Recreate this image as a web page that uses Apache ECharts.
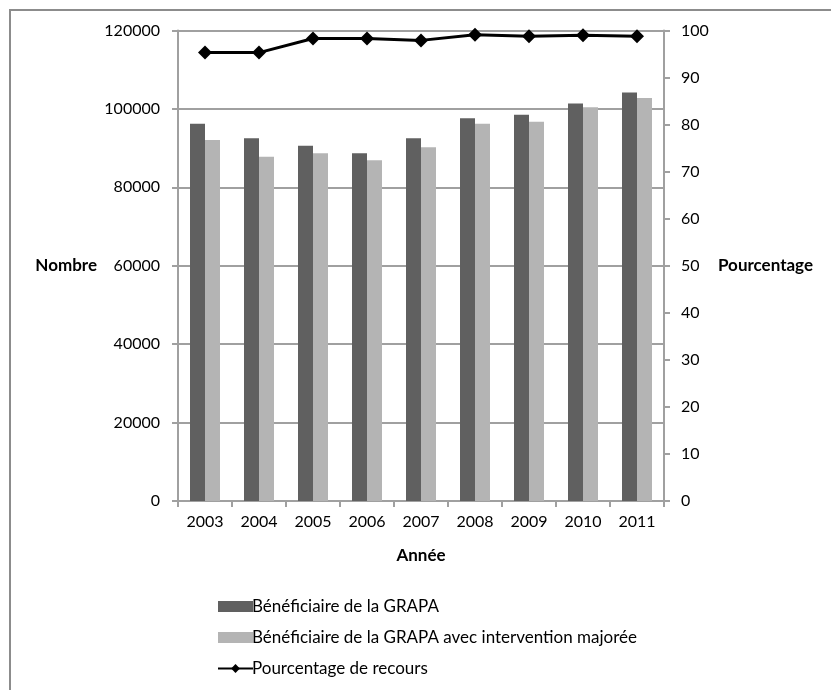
<!DOCTYPE html>
<html>
<head>
<meta charset="utf-8">
<script src="https://cdn.jsdelivr.net/npm/echarts@6/dist/echarts.min.js"></script>
<style>
  html, body { margin: 0; padding: 0; background: #fff; }
  #chart { width: 831px; height: 690px; }
</style>
</head>
<body>
<div id="chart"></div>
<script>
// Years on the category axis
const years = ['2003', '2004', '2005', '2006', '2007', '2008', '2009', '2010', '2011'];
// Number of GRAPA beneficiaries
const beneficiaires = [96200, 92500, 90600, 88700, 92500, 97600, 98500, 101400, 104200];
// Number of GRAPA beneficiaries with increased allowance
const beneficiairesMajores = [92100, 87800, 88700, 86900, 90200, 96200, 96700, 100400, 102800];
// Take-up rate (%)
const pourcentage = [95.3, 95.3, 98.3, 98.3, 97.9, 99.1, 98.8, 99.0, 98.8];

const FONT = 'Lato, "Open Sans", sans-serif';
const GRID_GREY = '#a0a0a0';

const chart = echarts.init(document.getElementById('chart'));
chart.setOption({
  animation: false,
  backgroundColor: '#fff',
  textStyle: { fontFamily: FONT, color: '#000' },
  graphic: [{
    type: 'rect',
    shape: { x: 10, y: 10, width: 900, height: 800 },
    style: { fill: 'none', stroke: '#8c8c8c', lineWidth: 2 },
    silent: true
  }],
  grid: { left: 178, right: 167, top: 30.5, bottom: 189 },
  legend: {
    orient: 'vertical',
    left: 212,
    top: 593,
    itemWidth: 35,
    itemHeight: 11,
    itemGap: 14,
    textStyle: { fontFamily: FONT, fontSize: 17, color: '#000', padding: [0, 0, 0, -6] },
    data: [
      { name: 'Bénéficiaire de la GRAPA', icon: 'rect' },
      { name: 'Bénéficiaire de la GRAPA avec intervention majorée', icon: 'rect' },
      { name: 'Pourcentage de recours' }
    ]
  },
  xAxis: {
    type: 'category',
    data: years,
    name: 'Année',
    nameLocation: 'middle',
    nameGap: 46,
    nameTextStyle: { fontFamily: FONT, fontSize: 17, fontWeight: 'bold', color: '#000' },
    axisLine: { lineStyle: { color: GRID_GREY, width: 2 } },
    axisTick: { show: true, alignWithLabel: false, length: 6, lineStyle: { color: GRID_GREY, width: 2 } },
    axisLabel: { fontFamily: FONT, fontSize: 16, color: '#000', margin: 13 }
  },
  yAxis: [{
    type: 'value',
    min: 0,
    max: 120000,
    interval: 20000,
    name: 'Nombre',
    nameLocation: 'middle',
    nameRotate: 0,
    nameGap: 81,
    nameTextStyle: { fontFamily: FONT, fontSize: 17, fontWeight: 'bold', color: '#000', align: 'right' },
    axisLine: { show: true, lineStyle: { color: GRID_GREY, width: 2 } },
    axisTick: { show: true, length: 6, lineStyle: { color: GRID_GREY, width: 2 } },
    axisLabel: { fontFamily: FONT, fontSize: 16, color: '#000', margin: 18, formatter: v => String(v) },
    splitLine: { show: true, lineStyle: { color: GRID_GREY, width: 2 } }
  }, {
    type: 'value',
    min: 0,
    max: 100,
    interval: 10,
    name: 'Pourcentage',
    nameLocation: 'middle',
    nameRotate: 0,
    nameGap: 54,
    nameTextStyle: { fontFamily: FONT, fontSize: 17, fontWeight: 'bold', color: '#000', align: 'left' },
    axisLine: { show: true, lineStyle: { color: GRID_GREY, width: 2 } },
    axisTick: { show: true, length: 6, lineStyle: { color: GRID_GREY, width: 2 } },
    axisLabel: { fontFamily: FONT, fontSize: 16, color: '#000', margin: 17 },
    splitLine: { show: false }
  }],
  series: [{
    name: 'Bénéficiaire de la GRAPA',
    type: 'bar',
    data: beneficiaires,
    barWidth: 15,
    barGap: '0%',
    itemStyle: { color: '#606060' }
  }, {
    name: 'Bénéficiaire de la GRAPA avec intervention majorée',
    type: 'bar',
    data: beneficiairesMajores,
    barWidth: 15,
    barGap: '0%',
    itemStyle: { color: '#b4b4b4' }
  }, {
    name: 'Pourcentage de recours',
    type: 'line',
    yAxisIndex: 1,
    data: pourcentage,
    symbol: 'diamond',
    symbolSize: 14,
    lineStyle: { color: '#000', width: 3 },
    itemStyle: { color: '#000' }
  }]
});
</script>
</body>
</html>
